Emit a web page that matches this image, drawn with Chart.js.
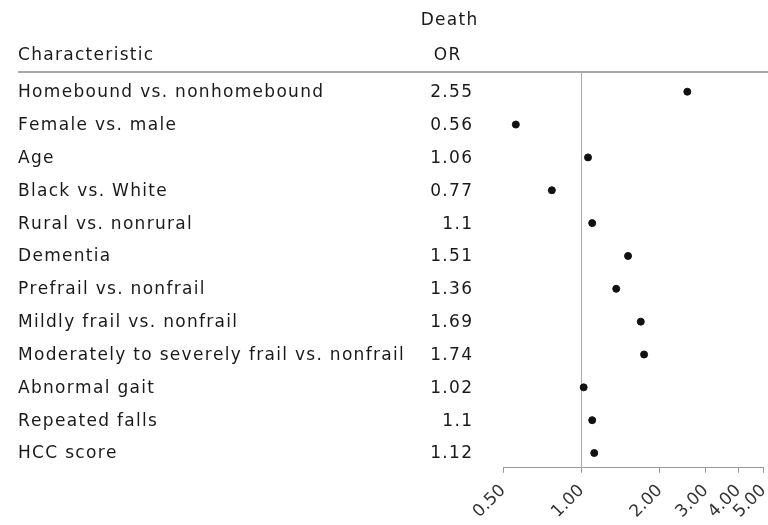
<!DOCTYPE html>
<html>
<head>
<meta charset="utf-8">
<script src="https://cdn.jsdelivr.net/npm/chart.js@4/dist/chart.umd.min.js"></script>
<style>
html,body{margin:0;padding:0;background:#fff;}
#wrap{width:768px;height:525px;position:relative;}
</style>
</head>
<body>
<div id="wrap"><canvas id="c" width="768" height="525"></canvas></div>
<script>
const characteristics = [
  "Homebound vs. nonhomebound",
  "Female vs. male",
  "Age",
  "Black vs. White",
  "Rural vs. nonrural",
  "Dementia",
  "Prefrail vs. nonfrail",
  "Mildly frail vs. nonfrail",
  "Moderately to severely frail vs. nonfrail",
  "Abnormal gait",
  "Repeated falls",
  "HCC score"
];
const orLabels = ["2.55","0.56","1.06","0.77","1.1","1.51","1.36","1.69","1.74","1.02","1.1","1.12"];
const orValues = [2.55, 0.56, 1.06, 0.77, 1.1, 1.51, 1.36, 1.69, 1.74, 1.02, 1.1, 1.12];
const xTicks = [0.5, 1, 2, 3, 4, 5];
const xTickLabels = ["0.50","1.00","2.00","3.00","4.00","5.00"];

const FONT = "'DejaVu Sans', 'Open Sans', sans-serif";

function spacedText(ctx, text, x, y, align) {
  const sp = 1.3;
  const w = ctx.measureText(text).width + sp * (text.length - 1);
  let sx = x;
  if (align === 'right') sx = x - w;
  else if (align === 'center') sx = x - w / 2;
  ctx.textAlign = 'left';
  for (const ch of text) {
    ctx.fillText(ch, sx, y);
    sx += ctx.measureText(ch).width + sp;
  }
}

const tablePlugin = {
  id: 'table',
  afterDraw(chart) {
    const ctx = chart.ctx;
    const ys = chart.scales.y;
    ctx.save();
    ctx.fillStyle = '#1a1a1a';
    ctx.font = "17px " + FONT;
    ctx.textBaseline = 'middle';
    spacedText(ctx, 'Death', 449, 21, 'center');
    spacedText(ctx, 'OR', 447, 56, 'center');
    spacedText(ctx, 'Characteristic', 18, 56, 'left');
    characteristics.forEach((c, i) => {
      const y = ys.getPixelForValue(i) + 1;
      spacedText(ctx, c, 18, y, 'left');
      spacedText(ctx, orLabels[i], 472, y, 'right');
    });
    ctx.restore();
  },
  beforeDatasetsDraw(chart) {
    const ctx = chart.ctx;
    const xs = chart.scales.x;
    const area = chart.chartArea;
    const x1 = xs.getPixelForValue(1);
    ctx.save();
    ctx.strokeStyle = '#aaa';
    ctx.lineWidth = 2;
    ctx.beginPath();
    ctx.moveTo(18, area.top);
    ctx.lineTo(768, area.top);
    ctx.stroke();
    ctx.lineWidth = 1;
    ctx.beginPath();
    ctx.moveTo(Math.round(x1) + 0.5, area.top);
    ctx.lineTo(Math.round(x1) + 0.5, area.bottom);
    ctx.stroke();
    ctx.restore();
  }
};

new Chart(document.getElementById('c'), {
  type: 'scatter',
  data: {
    datasets: [{
      data: orValues.map((v, i) => ({x: v, y: i})),
      backgroundColor: '#111',
      borderColor: '#111',
      pointRadius: 3.5,
      pointHoverRadius: 3.5
    }]
  },
  options: {
    responsive: false,
    animation: false,
    devicePixelRatio: 1,
    layout: { padding: { left: 503, right: 3, top: 72, bottom: -5 } },
    plugins: { legend: { display: false }, tooltip: { enabled: false } },
    scales: {
      x: {
        type: 'logarithmic',
        min: 0.5,
        max: 5,
        afterBuildTicks(scale) { scale.ticks = xTicks.map(v => ({value: v})); },
        afterFit(scale) { scale.paddingRight = 0; scale.paddingLeft = 0; },
        ticks: {
          autoSkip: false,
          minRotation: 45,
          maxRotation: 45,
          color: '#333',
          font: { family: FONT, size: 17 },
          padding: 8,
          callback(v) { const i = xTicks.indexOf(v); return i >= 0 ? xTickLabels[i] : ''; }
        },
        grid: { drawOnChartArea: false, drawTicks: true, tickLength: 5, color: '#999' },
        border: { display: true, color: '#999', width: 1 }
      },
      y: {
        type: 'linear',
        display: false,
        reverse: true,
        min: -0.6,
        max: 11.45
      }
    }
  },
  plugins: [tablePlugin]
});
</script>
</body>
</html>
